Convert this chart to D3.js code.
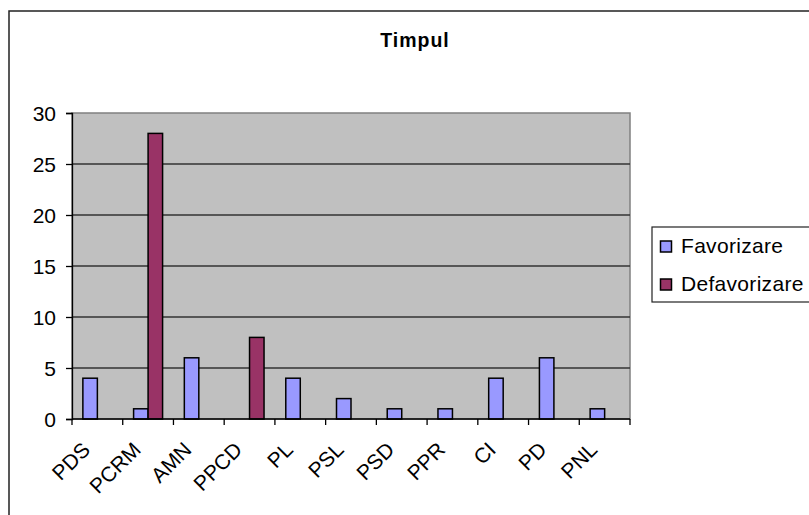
<!DOCTYPE html>
<html>
<head>
<meta charset="utf-8">
<script src="https://cdn.jsdelivr.net/npm/d3@7"></script>
<style>
  html, body { margin: 0; padding: 0; background: #fff; }
  svg { display: block; }
  text { font-family: "Liberation Sans", Arial, sans-serif; }
</style>
</head>
<body>
<svg id="chart" width="809" height="515"></svg>
<script>
const categories = ["PDS", "PCRM", "AMN", "PPCD", "PL", "PSL", "PSD", "PPR", "CI", "PD", "PNL"];
const favorizare = [4, 1, 6, 0, 4, 2, 1, 1, 4, 6, 1];
const defavorizare = [0, 28, 0, 8, 0, 0, 0, 0, 0, 0, 0];
const seriesNames = ["Favorizare", "Defavorizare"];
const seriesColors = ["#9999FF", "#993366"];
const yTicks = [0, 5, 10, 15, 20, 25, 30];
const titleText = "Timpul";

const svg = d3.select("#chart");

// outer chart frame (extends beyond the viewport)
svg.append("rect")
  .attr("x", 9).attr("y", 11).attr("width", 900).attr("height", 600)
  .attr("fill", "#fff").attr("stroke", "#222").attr("stroke-width", 1.5);

// title
svg.append("text")
  .attr("x", 415).attr("y", 47)
  .attr("text-anchor", "middle")
  .attr("font-size", "19.5px").attr("font-weight", "bold")
  .attr("letter-spacing", "1px")
  .text(titleText);

const plot = { left: 72, right: 630, top: 113, bottom: 419 };

const x = d3.scaleBand().domain(categories).range([plot.left, plot.right]).padding(0);
const y = d3.scaleLinear().domain([0, 30]).range([plot.bottom, plot.top]);
const barW = x.bandwidth() / 3.5;
const xs = d3.scaleBand().domain(seriesNames)
  .range([(x.bandwidth() - 2 * barW) / 2, (x.bandwidth() + 2 * barW) / 2]).padding(0);

// plot background
svg.append("rect")
  .attr("x", plot.left).attr("y", plot.top)
  .attr("width", plot.right - plot.left).attr("height", plot.bottom - plot.top)
  .attr("fill", "#C0C0C0").attr("stroke", "#808080").attr("stroke-width", 1.5);

// gridlines
svg.append("g").selectAll("line")
  .data(yTicks.filter(d => d > 0 && d < 30))
  .join("line")
  .attr("x1", plot.left).attr("x2", plot.right)
  .attr("y1", d => y(d)).attr("y2", d => y(d))
  .attr("stroke", "#333").attr("stroke-width", 1.3);

// bars
const rows = categories.map((c, i) => ({ cat: c, vals: [favorizare[i], defavorizare[i]] }));
const groups = svg.append("g").selectAll("g")
  .data(rows).join("g")
  .attr("transform", d => `translate(${x(d.cat)},0)`);
groups.selectAll("rect")
  .data(d => d.vals.map((v, j) => ({ name: seriesNames[j], v, j })).filter(e => e.v > 0))
  .join("rect")
  .attr("x", d => xs(d.name))
  .attr("width", xs.bandwidth())
  .attr("y", d => y(d.v))
  .attr("height", d => y(0) - y(d.v))
  .attr("fill", d => seriesColors[d.j])
  .attr("stroke", "#000").attr("stroke-width", 1.5);

// y axis
const yAxis = svg.append("g")
  .attr("transform", `translate(${plot.left},0)`)
  .call(d3.axisLeft(y).tickValues(yTicks).tickSize(6).tickPadding(10).tickFormat(d3.format("d")));
yAxis.select(".domain").attr("stroke", "#000").attr("stroke-width", 1.3);
yAxis.selectAll(".tick line").attr("stroke", "#000").attr("stroke-width", 1.3);
yAxis.selectAll(".tick text")
  .attr("font-size", "21px").attr("fill", "#000")
  .attr("font-family", "'Liberation Sans', Arial, sans-serif")
  .attr("dy", "0.36em");

// x axis baseline and ticks at band boundaries
svg.append("line")
  .attr("x1", plot.left).attr("x2", plot.right)
  .attr("y1", plot.bottom).attr("y2", plot.bottom)
  .attr("stroke", "#000").attr("stroke-width", 1.3);
const bounds = categories.map(c => x(c)).concat([x(categories[categories.length - 1]) + x.bandwidth()]);
svg.append("g").selectAll("line")
  .data(bounds).join("line")
  .attr("x1", d => d).attr("x2", d => d)
  .attr("y1", plot.bottom).attr("y2", plot.bottom + 6)
  .attr("stroke", "#000").attr("stroke-width", 1.3);

// x labels rotated
svg.append("g").selectAll("text")
  .data(categories).join("text")
  .attr("transform", d => `translate(${x(d) + x.bandwidth() / 2 - 6},451) rotate(-45)`)
  .attr("text-anchor", "end")
  .attr("font-size", "21px").attr("fill", "#000")
  .text(d => d);

// legend
const lg = svg.append("g");
lg.append("rect")
  .attr("x", 652).attr("y", 227).attr("width", 200).attr("height", 75)
  .attr("fill", "#fff").attr("stroke", "#222").attr("stroke-width", 1.2);
const items = lg.selectAll("g.item").data(seriesNames).join("g")
  .attr("class", "item")
  .attr("transform", (d, i) => `translate(0,${i * 38})`);
items.append("rect")
  .attr("x", 660.5).attr("y", 241).attr("width", 11).attr("height", 11)
  .attr("fill", (d, i) => seriesColors[i])
  .attr("stroke", "#000").attr("stroke-width", 1.5);
items.append("text")
  .attr("x", 681).attr("y", 253)
  .attr("font-size", "21px").attr("fill", "#000")
  .attr("letter-spacing", "0.3px")
  .text(d => d);
</script>
</body>
</html>
